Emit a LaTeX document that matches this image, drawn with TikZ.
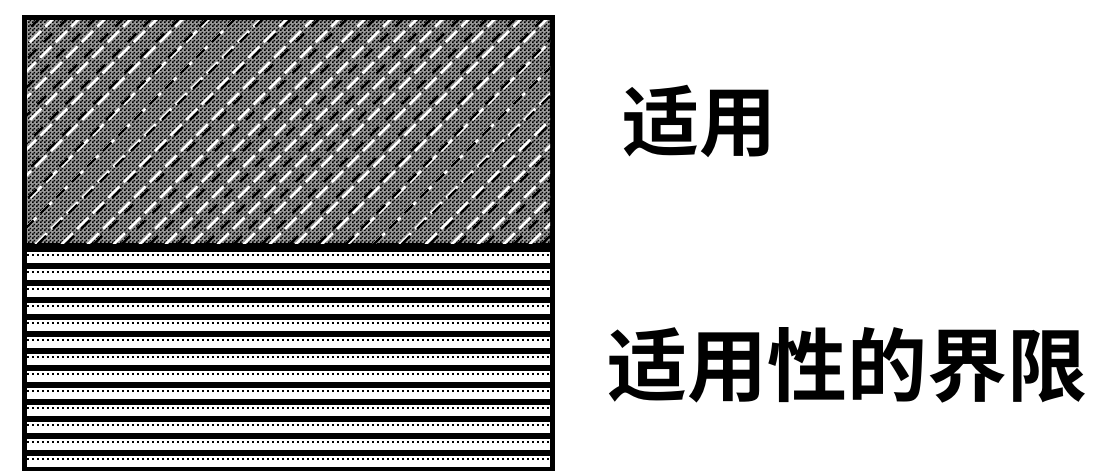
\documentclass[tikz,border=0pt]{standalone}
\usepackage{fontspec}
\newfontfamily\cjk{Noto Sans CJK SC}[BoldFont={Noto Sans CJK SC Bold}]
\usetikzlibrary{patterns}
\pgfdeclarepatternformonly{dither}{\pgfpointorigin}{\pgfqpoint{4pt}{4pt}}{\pgfqpoint{4pt}{4pt}}{%
  \pgfpathrectangle{\pgfpointorigin}{\pgfqpoint{2pt}{2pt}}%
  \pgfpathrectangle{\pgfqpoint{2pt}{2pt}}{\pgfqpoint{2pt}{2pt}}%
  \pgfusepath{fill}}
\tikzset{
  lbl/.style={inner sep=0pt, font=\cjk\bfseries\fontsize{80}{80}\selectfont, text=black},
  streak/.style={white, line width=2.6pt, dash pattern=on 16pt off 6pt},
  darkstreak/.style={black, line width=2.4pt, dash pattern=on 12pt off 10pt},
  stripe/.style={fill=white, draw=none},
  dotline/.style={black, line width=1.2pt, dash pattern=on 2pt off 3pt}
}
\begin{document}
\begin{tikzpicture}[x=1pt,y=-1pt]
\useasboundingbox (0,0) rectangle (1095,471);
\fill[white] (0,0) rectangle (1095,471);
% outer frame / black body
\fill[black] (22,15) rectangle (555,471);
% top: dithered cross-hatch
\begin{scope}
  \clip (27,20) rectangle (550,243);
  \fill[black!40] (27,20) rectangle (550,243);
  \fill[pattern=dither, pattern color=black] (27,20) rectangle (550,243);
  \foreach \s in {-240,-214,...,560} {
    \draw[streak] (\s,260) -- (\s+260,0);
  }
  \foreach \s in {-230,-202,...,560} {
    \draw[darkstreak] (\s,260) -- (\s+260,0);
  }
\end{scope}
% bottom: horizontal stripes
\begin{scope}
  \clip (27,247) rectangle (550,471);
  \foreach \y in {252,269,...,470} {
    \fill[stripe] (27,\y) rectangle (550,\y+11);
    \draw[dotline] (27,\y+3) -- (550,\y+3);
  }
\end{scope}
% labels
\node[lbl, font=\cjk\bfseries\fontsize{77}{77}\selectfont] (a) at (699,122) {适用};
\node[lbl] (b) at (847,365) {适用性的界限};
\end{tikzpicture}
\end{document}
